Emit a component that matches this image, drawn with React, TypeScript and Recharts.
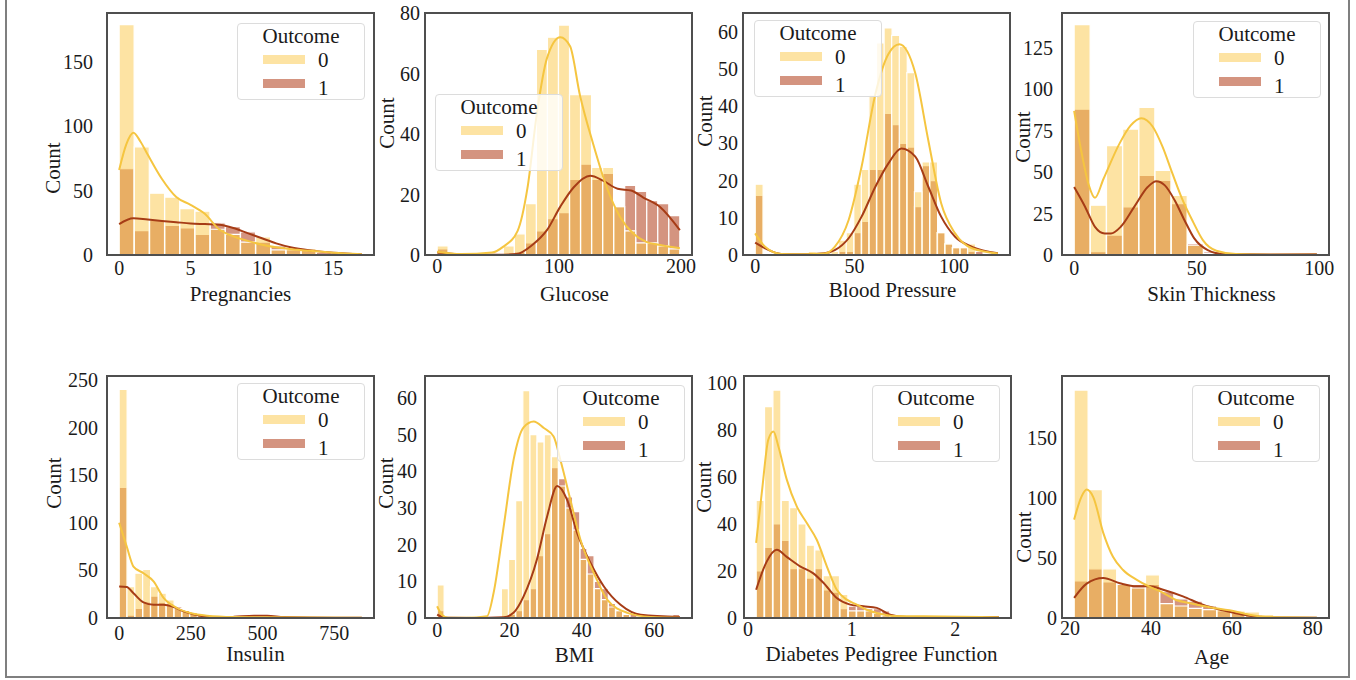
import { Fragment } from 'react';
import { ComposedChart, Bar, Line, XAxis, YAxis } from 'recharts';

const FONT = "'Liberation Serif', 'Times New Roman', Times, serif";
const INK = '#1a1a1a';
const NO_FILL = '#fbc747';
const YES_FILL = '#a92901';
const NO_LINE = '#f5c540';
const YES_LINE = '#a63c16';
const NO_PATCH = '#fde3a3';
const YES_PATCH = '#d49480';

const PLOT_W = 267;
const PLOT_H = 242;
const AXIS_W = 80;

const outcomeLabels = ['0', '1'];

// Pregnancies
const pregBins = [0.53, 1.59, 2.66, 3.72, 4.78, 5.84, 6.91, 7.97, 9.03, 10.09, 11.16, 12.22, 13.28, 14.34, 15.41, 16.47];
const pregNo = [179, 84, 48, 45, 36, 34, 20, 16, 10, 14, 4, 5, 5, 0, 0, 0];
const pregYes = [67, 19, 27, 23, 21, 16, 25, 22, 18, 10, 7, 4, 5, 2, 1, 1];
const pregKdeNoX = [0, 0.5, 1, 1.5, 2, 3, 4, 5, 6, 7, 8, 9, 10, 11, 12.5, 15, 17];
const pregKdeNo = [66, 86, 95, 88, 78, 59, 45, 39, 32, 20, 14.5, 11, 8, 6, 4, 1.8, 0.6];
const pregKdeYesX = [0, 1, 2, 3, 4, 5, 6, 7, 8, 9, 10, 11, 12, 13.5, 15, 17];
const pregKdeYes = [24, 28.5, 27.5, 26.5, 25.5, 24.5, 24, 23.5, 21, 17, 13, 9, 6, 3.4, 1.8, 0.6];

// Glucose
const glucBins = [4.52, 13.57, 22.61, 31.66, 40.7, 49.75, 58.79, 67.84, 76.88, 85.93, 94.97, 104.02, 113.06, 122.11, 131.15, 140.2, 149.24, 158.29, 167.33, 176.38, 185.42, 194.47];
const glucNo = [3, 0, 0, 0, 0, 0, 3, 7, 17, 68, 72, 76, 53, 53, 29, 29, 16, 8, 4, 4, 3, 2];
const glucYes = [2, 0, 0, 0, 0, 0, 0, 1, 4, 8, 12, 14, 25, 30, 25, 27, 16, 23, 21, 18, 17, 13];
const glucKdeNoX = [0, 20, 45, 54, 66, 74, 82, 90, 101, 109, 117, 128, 139, 150, 161, 171, 183, 199];
const glucKdeNo = [1.1, 0.3, 0.8, 2.7, 8, 22, 47.5, 65, 72, 69, 53, 36.6, 22.4, 12.6, 7, 4.4, 3.3, 2.2];
const glucKdeYesX = [0, 20, 50, 65, 78, 90, 101, 112, 125.5, 136, 148, 159, 169, 183, 199];
const glucKdeYes = [0.8, 0.2, 0.1, 0.3, 3.3, 8.2, 16, 22.4, 26.2, 24.6, 21.9, 21.3, 19, 15.8, 8.2];

// Blood Pressure
const bpBins = [1.91, 5.72, 9.53, 13.34, 17.16, 20.97, 24.78, 28.59, 32.41, 36.22, 40.03, 43.84, 47.66, 51.47, 55.28, 59.09, 62.91, 66.72, 70.53, 74.34, 78.16, 81.97, 85.78, 89.59, 93.41, 97.22, 101.03, 104.84, 108.66, 112.47, 116.28, 120.09];
const bpNo = [19, 0, 0, 0, 0, 0, 0, 1, 0, 1, 1, 4, 6, 19, 23, 43, 57, 61, 59, 56, 49, 17, 25, 25, 6, 3, 2, 2, 3, 0, 0, 1];
const bpYes = [16, 0, 0, 0, 0, 0, 0, 0, 0, 0, 0, 1, 1, 6, 9, 23, 23, 38, 35, 30, 29, 13, 24, 20, 6, 3, 2, 2, 1, 1, 0, 0];
const bpKdeNoX = [0, 5, 13, 25, 35, 40, 47, 53.5, 60.5, 67, 72.5, 80.5, 87, 93.5, 100.5, 109, 122];
const bpKdeNo = [5.8, 2.2, 0.3, 0.2, 0.4, 2.2, 9.4, 23.7, 43.4, 54, 56.6, 48.8, 30.9, 13.9, 5.8, 1.8, 0.4];
const bpKdeYesX = [0, 5, 13, 25, 35, 40, 47, 53.5, 60.5, 67, 73.5, 80.5, 87, 93.5, 100.5, 109, 122];
const bpKdeYes = [3.3, 1.8, 0.3, 0.2, 0.5, 1.3, 4.5, 10.3, 18.4, 24.6, 28.6, 26.4, 18.4, 10.3, 4.9, 2.2, 0.5];

// Skin Thickness
const skinBins = [3.3, 9.9, 16.5, 23.1, 29.7, 36.3, 42.9, 49.5, 56.1, 62.7, 69.3, 75.9, 82.5, 89.1, 95.7];
const skinNo = [139, 30, 66, 76, 89, 51, 36, 6, 1, 0, 0, 0, 0, 0, 0];
const skinYes = [88, 2, 12, 29, 48, 45, 31, 7, 2, 0, 0, 0, 0, 0, 1];
const skinKdeNoX = [0, 3, 6, 8.5, 12, 18.6, 23, 27.4, 32, 36, 40, 44, 48.5, 52.5, 58, 66, 80, 99];
const skinKdeNo = [87, 62, 42, 34.5, 46, 67.5, 78, 82.5, 77.5, 65.5, 49.5, 34, 20, 9, 2.6, 0.6, 0.2, 0.1];
const skinKdeYesX = [0, 4.5, 8.5, 12.5, 15, 19, 24.5, 30, 33.5, 37, 41, 45, 49, 54.5, 61, 80, 99];
const skinKdeYes = [41, 29, 17, 13, 13, 17, 29, 41, 44.5, 42, 33, 21, 10, 3, 0.6, 0.3, 0.5];

// Insulin
const insBins = [13.65, 40.94, 68.23, 95.52, 122.81, 150.1, 177.39, 204.68, 231.97, 259.26, 286.55, 313.84, 341.13, 368.42, 395.71, 423.0, 450.29, 477.58, 504.87, 532.16, 559.45, 586.74, 614.03, 641.32, 668.61, 695.9, 723.19, 750.48, 777.77, 805.06, 832.35];
const insNo = [240, 33, 47, 51, 33, 26, 19, 10, 8, 6, 4, 3, 2, 1, 0, 1, 0, 1, 0, 0, 0, 0, 0, 0, 0, 0, 0, 0, 0, 0, 0];
const insYes = [137, 3, 10, 17, 23, 16, 15, 12, 8, 5, 4, 2, 1, 1, 0, 0, 1, 2, 1, 1, 0, 1, 0, 0, 0, 0, 0, 0, 0, 0, 1];
const insKdeNoX = [0, 26.5, 50, 85, 120, 155, 201, 248, 306, 400, 516, 846];
const insKdeNo = [100, 75, 54, 47, 38.5, 21, 10.5, 5.2, 2.4, 1, 0.7, 0.3];
const insKdeYesX = [0, 26.5, 50, 85, 120, 155, 190, 225, 283, 341, 400, 470, 516, 575, 750, 846];
const insKdeYes = [33, 32.5, 26, 16.4, 14, 14, 11.5, 7, 2.4, 0.7, 1.2, 2.4, 2.4, 1, 0.3, 0.3];

// BMI
const bmiBins = [0.99, 2.96, 4.93, 6.91, 8.88, 10.85, 12.83, 14.8, 16.77, 18.75, 20.72, 22.69, 24.67, 26.64, 28.62, 30.59, 32.56, 34.54, 36.51, 38.48, 40.46, 42.43, 44.4, 46.38, 48.35, 50.33, 52.3, 54.27, 56.25, 58.22, 60.19, 62.17, 64.14, 66.11];
const bmiNo = [9, 0, 0, 0, 0, 0, 0, 0, 0, 8, 16, 32, 62, 50, 48, 50, 44, 36, 30, 24, 16, 12, 8, 5, 3, 2, 1, 0, 0, 0, 0, 0, 0, 0];
const bmiYes = [2, 0, 0, 0, 0, 0, 0, 0, 0, 0, 1, 2, 5, 8, 17, 23, 41, 38, 33, 29, 19, 17, 10, 8, 4, 2, 1, 1, 0, 0, 1, 0, 0, 1];
const bmiKdeNoX = [0, 1.3, 3, 8, 13.8, 15.6, 18.4, 21.1, 23.9, 26.7, 29.5, 32.2, 34.1, 36.9, 39.6, 43.3, 47, 52.6, 59, 67.1];
const bmiKdeNo = [3.2, 0.9, 0.1, 0.05, 0.5, 6.8, 25, 43, 52, 53.6, 51.8, 49.5, 43, 32, 21.4, 12.3, 5, 1.4, 0.3, 0.1];
const bmiKdeYesX = [0, 1.3, 3, 10, 18.4, 21.1, 23.9, 27.6, 30.4, 33.2, 35.9, 38.7, 42.4, 46.1, 50.7, 56.3, 67.1];
const bmiKdeYes = [0.9, 0.3, 0.05, 0, 0.2, 1.4, 5.9, 16, 27.7, 36, 32.3, 23.2, 15, 8.6, 3.6, 0.9, 0.3];

// Diabetes Pedigree Function
const dpfBins = [0.118, 0.199, 0.28, 0.361, 0.441, 0.522, 0.603, 0.684, 0.764, 0.845, 0.926, 1.007, 1.087, 1.168, 1.249, 1.33, 1.411, 1.491, 1.572, 1.653, 1.734, 1.814, 1.895, 1.976, 2.057, 2.137, 2.218, 2.299, 2.38];
const dpfNo = [50, 90, 97, 50, 47, 40, 31, 29, 18, 18, 10, 3, 3, 3, 2, 1, 1, 0, 0, 1, 0, 0, 0, 0, 0, 0, 0, 0, 0];
const dpfYes = [20, 30, 40, 33, 21, 21, 17, 21, 12, 11, 4, 5, 5, 4, 4, 3, 1, 0, 0, 0, 0, 0, 0, 0, 0, 0, 0, 1, 1];
const dpfKdeNoX = [0.078, 0.132, 0.196, 0.245, 0.293, 0.373, 0.47, 0.567, 0.663, 0.76, 0.856, 0.953, 1.049, 1.146, 1.242, 1.371, 1.692, 2.42];
const dpfKdeNo = [32, 53, 76, 79.4, 73, 59, 47.5, 40.4, 33.3, 22, 12, 7.8, 5.7, 3.5, 2.1, 1, 0.7, 0.3];
const dpfKdeYesX = [0.078, 0.18, 0.277, 0.373, 0.502, 0.63, 0.727, 0.856, 0.985, 1.113, 1.242, 1.371, 1.53, 2.42];
const dpfKdeYes = [12, 24, 29, 26, 22, 19, 15, 8.5, 5.7, 5, 4.3, 1.4, 0.4, 0.4];

// Age
const ageBins = [22.76, 26.29, 29.82, 33.35, 36.88, 40.41, 43.94, 47.47, 51.0, 54.53, 58.06, 61.59, 65.12, 68.65, 72.18, 75.71, 79.24];
const ageNo = [190, 107, 41, 28, 25, 36, 12, 10, 8, 7, 7, 6, 5, 3, 1, 0, 1];
const ageYes = [31, 41, 30, 28, 28, 28, 22, 16, 14, 10, 6, 4, 2, 1, 0, 0, 0];
const ageKdeNoX = [21, 22.8, 24.1, 25.7, 28.2, 30.6, 33.1, 36.4, 39.7, 43, 46.2, 49.5, 54.5, 59.4, 64.3, 69.2, 81];
const ageKdeNo = [82, 101, 107, 101, 71, 51, 40, 32, 26, 21, 15, 12.5, 9, 6.4, 2.8, 0.8, 0.3];
const ageKdeYesX = [21, 24.1, 28.2, 32.3, 36.4, 39.7, 43, 47.9, 52.8, 57.7, 62.7, 67.6, 81];
const ageKdeYes = [16.7, 28.6, 33.3, 29, 26.4, 26.4, 23.6, 18, 11, 6.4, 2.8, 0.8, 0.3];

type Panel = {
  label: string;
  bins: number[];
  no: number[];
  yes: number[];
  kdeNoX: number[];
  kdeNo: number[];
  kdeYesX: number[];
  kdeYes: number[];
  xDomain: [number, number];
  xTicks: number[];
  yDomain: [number, number];
  yTicks: number[];
  left: number;
  top: number;
  legend: [number, number];
  yTickGap: number;
  xTickGap: number;
  yLabelDist: number;
  yLabelDy: number;
  xLabelDx: number;
  xLabelBase: number;
};

const panels: Panel[] = [
  {
    label: 'Pregnancies', bins: pregBins, no: pregNo, yes: pregYes,
    kdeNoX: pregKdeNoX, kdeNo: pregKdeNo, kdeYesX: pregKdeYesX, kdeYes: pregKdeYes,
    xDomain: [-0.85, 17.85], xTicks: [0, 5, 10, 15], yDomain: [0, 188], yTicks: [0, 50, 100, 150],
    left: 107, top: 13, legend: [237, 23], yTickGap: 14, xTickGap: 6,
    yLabelDist: 54, yLabelDy: 34, xLabelDx: 0, xLabelBase: 46,
  },
  {
    label: 'Glucose', bins: glucBins, no: glucNo, yes: glucYes,
    kdeNoX: glucKdeNoX, kdeNo: glucKdeNo, kdeYesX: glucKdeYesX, kdeYes: glucKdeYes,
    xDomain: [-9.95, 208.95], xTicks: [0, 100, 200], yDomain: [0, 80], yTicks: [0, 20, 40, 60, 80],
    left: 425, top: 13, legend: [435, 94], yTickGap: 5, xTickGap: 4,
    yLabelDist: 38, yLabelDy: -11, xLabelDx: 16, xLabelBase: 46,
  },
  {
    label: 'Blood Pressure', bins: bpBins, no: bpNo, yes: bpYes,
    kdeNoX: bpKdeNoX, kdeNo: bpKdeNo, kdeYesX: bpKdeYesX, kdeYes: bpKdeYes,
    xDomain: [-6.1, 128.1], xTicks: [0, 50, 100], yDomain: [0, 65], yTicks: [0, 10, 20, 30, 40, 50, 60],
    left: 743, top: 13, legend: [754, 20], yTickGap: 5, xTickGap: 4,
    yLabelDist: 38, yLabelDy: -13, xLabelDx: 16, xLabelBase: 42,
  },
  {
    label: 'Skin Thickness', bins: skinBins, no: skinNo, yes: skinYes,
    kdeNoX: skinKdeNoX, kdeNo: skinKdeNo, kdeYesX: skinKdeYesX, kdeYes: skinKdeYes,
    xDomain: [-4.95, 103.95], xTicks: [0, 50, 100], yDomain: [0, 146], yTicks: [0, 25, 50, 75, 100, 125],
    left: 1062, top: 13, legend: [1193, 21], yTickGap: 9, xTickGap: 6,
    yLabelDist: 39, yLabelDy: 3, xLabelDx: 16, xLabelBase: 46,
  },
  {
    label: 'Insulin', bins: insBins, no: insNo, yes: insYes,
    kdeNoX: insKdeNoX, kdeNo: insKdeNo, kdeYesX: insKdeYesX, kdeYes: insKdeYes,
    xDomain: [-42.3, 888.3], xTicks: [0, 250, 500, 750], yDomain: [0, 254], yTicks: [0, 50, 100, 150, 200, 250],
    left: 107, top: 376, legend: [237, 383], yTickGap: 9, xTickGap: 8,
    yLabelDist: 53, yLabelDy: -14, xLabelDx: 15, xLabelBase: 43,
  },
  {
    label: 'BMI', bins: bmiBins, no: bmiNo, yes: bmiYes,
    kdeNoX: bmiKdeNoX, kdeNo: bmiKdeNo, kdeYesX: bmiKdeYesX, kdeYes: bmiKdeYes,
    xDomain: [-3.355, 70.455], xTicks: [0, 20, 40, 60], yDomain: [0, 66], yTicks: [0, 10, 20, 30, 40, 50, 60],
    left: 425, top: 376, legend: [557, 385], yTickGap: 8, xTickGap: 5,
    yLabelDist: 39, yLabelDy: -14, xLabelDx: 16, xLabelBase: 44,
  },
  {
    label: 'Diabetes Pedigree Function', bins: dpfBins, no: dpfNo, yes: dpfYes,
    kdeNoX: dpfKdeNoX, kdeNo: dpfKdeNo, kdeYesX: dpfKdeYesX, kdeYes: dpfKdeYes,
    xDomain: [-0.039, 2.537], xTicks: [0, 1, 2], yDomain: [0, 103], yTicks: [0, 20, 40, 60, 80, 100],
    left: 744, top: 376, legend: [872, 385], yTickGap: 7, xTickGap: 4,
    yLabelDist: 40, yLabelDy: -10, xLabelDx: 4, xLabelBase: 43,
  },
  {
    label: 'Age', bins: ageBins, no: ageNo, yes: ageYes,
    kdeNoX: ageKdeNoX, kdeNo: ageKdeNo, kdeYesX: ageKdeYesX, kdeYes: ageKdeYes,
    xDomain: [18, 84], xTicks: [20, 40, 60, 80], yDomain: [0, 201.7], yTicks: [0, 50, 100, 150],
    left: 1062, top: 376, legend: [1192, 385], yTickGap: 5, xTickGap: 3,
    yLabelDist: 38, yLabelDy: 40, xLabelDx: 16, xLabelBase: 46,
  },
];

function HistPanel({ p }: { p: Panel }) {
  const rows = p.bins.map((x, i) => ({ x, no: p.no[i], yes: p.yes[i] }));
  const noCurve = p.kdeNoX.map((x, i) => ({ x, y: p.kdeNo[i] }));
  const yesCurve = p.kdeYesX.map((x, i) => ({ x, y: p.kdeYes[i] }));
  const tick = { fontSize: 20, fill: INK, fontFamily: FONT };

  const xLabel = (props: any) => {
    const vb = props.viewBox;
    return (
      <text x={vb.x + vb.width / 2 + p.xLabelDx} y={vb.y + p.xLabelBase} textAnchor="middle"
        fontSize={21} fontFamily={FONT} fill={INK}>
        {p.label}
      </text>
    );
  };

  const yLabel = (props: any) => {
    const vb = props.viewBox;
    const cx = vb.x + vb.width - p.yLabelDist;
    const cy = vb.y + vb.height / 2 + p.yLabelDy;
    return (
      <text x={cx} y={cy} transform={`rotate(-90, ${cx}, ${cy})`} textAnchor="middle"
        dominantBaseline="central" fontSize={21} fontFamily={FONT} fill={INK}>
        Count
      </text>
    );
  };

  return (
    <div style={{ position: 'absolute', left: p.left - AXIS_W, top: p.top - 13 }}>
      <ComposedChart
        width={AXIS_W + PLOT_W + 10}
        height={13 + PLOT_H + 52}
        data={rows}
        margin={{ top: 13, right: 10, bottom: 0, left: 0 }}
        barGap={0}
        barCategoryGap={0}
        style={{ fontFamily: FONT, fontSize: 20 }}
      >
        <XAxis xAxisId="no" dataKey="x" type="number" domain={p.xDomain} ticks={p.xTicks}
          axisLine={false} tickLine={false} tickSize={0} tickMargin={p.xTickGap} interval={0}
          fontSize={20} fontFamily={FONT} tick={tick} height={52} label={xLabel} />
        <XAxis xAxisId="yes" dataKey="x" type="number" domain={p.xDomain} hide height={0} />
        <XAxis xAxisId="kde" dataKey="x" type="number" domain={p.xDomain} hide height={0} />
        <YAxis type="number" domain={p.yDomain} ticks={p.yTicks} width={AXIS_W}
          axisLine={false} tickLine={false} tickSize={0} tickMargin={p.yTickGap} interval={0}
          fontSize={20} fontFamily={FONT} tick={tick} label={yLabel} />
        <Bar xAxisId="yes" dataKey="yes" fill={YES_FILL} fillOpacity={0.5}
          stroke="#ffffff" strokeWidth={1.2} isAnimationActive={false} />
        <Bar xAxisId="no" dataKey="no" fill={NO_FILL} fillOpacity={0.5}
          stroke="#ffffff" strokeWidth={1.2} isAnimationActive={false} />
        <Line xAxisId="kde" data={yesCurve} dataKey="y" type="monotone" stroke={YES_LINE}
          strokeWidth={2} dot={false} activeDot={false} isAnimationActive={false} />
        <Line xAxisId="kde" data={noCurve} dataKey="y" type="monotone" stroke={NO_LINE}
          strokeWidth={2} dot={false} activeDot={false} isAnimationActive={false} />
      </ComposedChart>
      <div style={{
        position: 'absolute', left: AXIS_W - 1.25, top: 13 - 1.25,
        width: PLOT_W + 2.5, height: PLOT_H + 2.5,
        border: '2.5px solid #4f4f4f', boxSizing: 'border-box', pointerEvents: 'none',
      }} />
    </div>
  );
}

function LegendBox({ x, y }: { x: number; y: number }) {
  const patches = [NO_PATCH, YES_PATCH];
  return (
    <div style={{
      position: 'absolute', left: x, top: y, width: 128, height: 77,
      border: '1px solid #dcdcdc', borderRadius: 4, background: 'rgba(255,255,255,0.8)',
      boxSizing: 'border-box', fontFamily: FONT, fontSize: 21, color: INK,
    }}>
      <div style={{ position: 'absolute', left: 0, right: 0, top: 0, textAlign: 'center', lineHeight: '24px' }}>
        Outcome
      </div>
      {outcomeLabels.map((lab, i) => (
        <Fragment key={lab}>
          <div style={{
            position: 'absolute', left: 25, top: 31 + i * 24, width: 42, height: 9,
            background: patches[i],
          }} />
          <div style={{ position: 'absolute', left: 80, top: 24 + i * 28, lineHeight: '24px' }}>{lab}</div>
        </Fragment>
      ))}
    </div>
  );
}

export default function App() {
  return (
    <div style={{
      position: 'absolute', left: 0, top: 0, width: 1356, height: 680,
      background: '#ffffff', overflow: 'hidden', fontFamily: FONT,
    }}>
      <div style={{
        position: 'absolute', left: 5, top: -3, width: 1345, height: 681,
        border: '2px solid #7f7f7f', boxSizing: 'border-box',
      }} />
      {panels.map((p) => (
        <HistPanel key={p.label} p={p} />
      ))}
      {panels.map((p) => (
        <LegendBox key={`lg-${p.label}`} x={p.legend[0]} y={p.legend[1]} />
      ))}
    </div>
  );
}
